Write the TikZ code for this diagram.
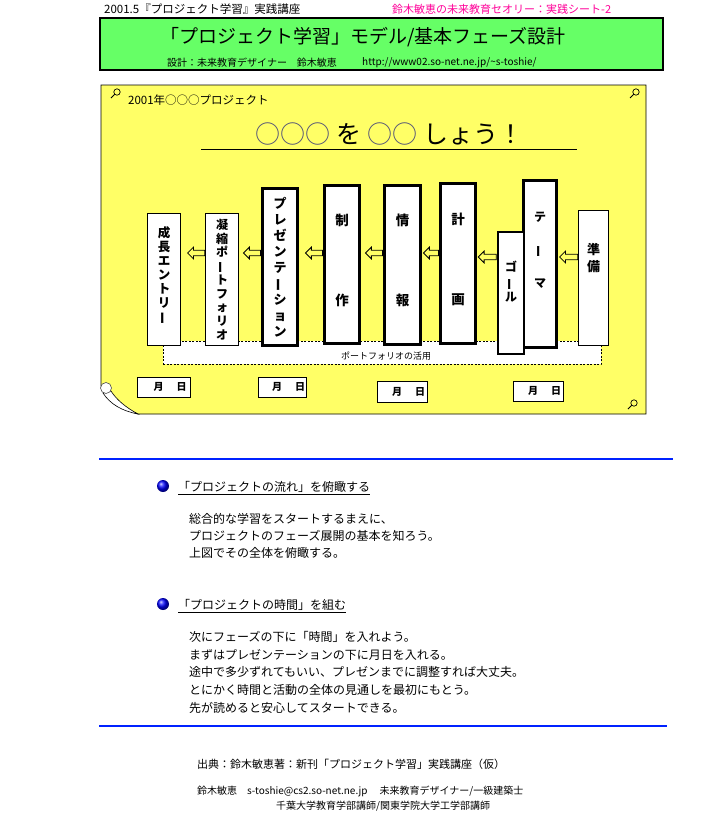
\documentclass[tikz,border=0pt]{standalone}
\usepackage{fontspec}
\setmainfont{Noto Sans CJK JP}
\usepackage{xcolor}
\usepackage{tikz}
\usetikzlibrary{calc,shapes.arrows}
\definecolor{greenbg}{HTML}{66FF66}
\definecolor{boardy}{HTML}{FFFF66}
\definecolor{pinkx}{HTML}{FF0099}
\definecolor{bluex}{HTML}{0022FF}
\definecolor{circgray}{HTML}{555577}
\newcommand{\tate}{\rotatebox[origin=c]{90}{ー}}
\tikzset{
  phase/.style={draw,fill=white,line width=0.9pt,inner sep=0pt},
  phasebold/.style={phase,line width=2.6pt},
  vtxt/.style={align=center,inner sep=0pt,font=\bfseries\fontsize{12.5}{14}\selectfont},
  flowarr/.style={single arrow,draw,fill=boardy,line width=0.8pt,inner sep=2.4pt,minimum height=17pt,
    single arrow head extend=3pt,shape border rotate=180},
  datebox/.style={draw,fill=white,line width=0.8pt,inner sep=0pt,minimum height=20pt,font=\bfseries\fontsize{10}{12}\selectfont},
  txt/.style={anchor=west,inner sep=0pt},
  lens/.pic={\draw[line width=0.7pt] (0,0) circle (3.2); \draw[line width=0.9pt] (-2.3,2.3) -- (-6,6);}
}
\begin{document}
\begin{tikzpicture}[x=1pt,y=-1pt]
\useasboundingbox (0,0) rectangle (721,828);
\fill[white] (0,0) rectangle (721,828);
% header
\node[txt,font=\fontsize{11.5}{13}\selectfont] (hdr) at (104,9) {2001.5『プロジェクト学習』実践講座};
\node[txt,font=\fontsize{11}{13}\selectfont,text=pinkx] (series) at (392,9) {鈴木敏恵の未来教育セオリー：実践シート-2};
\node[draw,line width=2pt,fill=greenbg,minimum width=563pt,minimum height=52pt,inner sep=0pt] (titlebox) at (381.5,44) {};
\node[font=\fontsize{19}{21}\selectfont] (title) at (363,37) {「プロジェクト学習」モデル/基本フェーズ設計};
\node[txt,font=\fontsize{10}{12}\selectfont] (designer) at (167,63) {設計：未来教育デザイナー　鈴木敏恵};
\node[txt,font=\fontsize{10}{12}\selectfont] (url) at (362,63) {http://www02.so-net.ne.jp/\textasciitilde s-toshie/};

% board with curled corner
\filldraw[fill=boardy,draw=black,line width=0.8pt] (101,85) -- (646,85) -- (646,414) -- (138,414)
  .. controls (124,409) and (110,398) .. (101,386) -- cycle;
\filldraw[fill=white,draw=black,line width=0.6pt] (103,393) .. controls (110,404) and (122,411) .. (138,414)
  .. controls (125,407) and (116,399) .. (111,391) -- cycle;
\filldraw[fill=white,draw=black!70,line width=0.6pt] (106,388) circle (5.5);
\pic at (117,92) {lens};
\pic at (636,92) {lens};
\pic at (634,403) {lens};

\node[txt,font=\fontsize{11.5}{13}\selectfont] (proj) at (128,100) {2001年○○○プロジェクト};
\node[font=\fontsize{25}{28}\selectfont] (aim) at (389,134) {\textcolor{circgray}{○○○}\hspace{6pt}を\hspace{6pt}\textcolor{circgray}{○○}\hspace{6pt}しょう！};
\draw[line width=0.8pt] (201,149) -- (577,149);

% portfolio band
\node[draw,fill=white,dash pattern=on 2pt off 1.5pt,line width=0.8pt,minimum width=438pt,minimum height=23pt,inner sep=0pt] (pfband) at (382,352.5) {};
\node[font=\fontsize{9}{10}\selectfont,inner sep=0pt] (pflabel) at (386,356) {ポートフォリオの活用};

% phases
\node[phase,minimum width=33pt,minimum height=132pt] (grow) at (164,279.5) {};
\node[phase,minimum width=33pt,minimum height=132pt] (cond) at (222,279.5) {};
\node[phasebold,minimum width=35.5pt,minimum height=157.5pt] (pres) at (280,267) {};
\node[phasebold,minimum width=35.5pt,minimum height=158.5pt] (make) at (342,264.5) {};
\node[phasebold,minimum width=36.5pt,minimum height=159.5pt] (info) at (402.5,265) {};
\node[phasebold,minimum width=35.5pt,minimum height=160.5pt] (plan) at (458,263.5) {};
\node[phasebold,minimum width=33.5pt,minimum height=167.5pt] (theme) at (540,264) {};
\node[phasebold,minimum width=26pt,minimum height=122pt] (goal) at (511,293) {};
\node[phase,minimum width=30pt,minimum height=135pt] (prep) at (593.5,278) {};

\node[vtxt] at ([yshift=4pt]grow.center) {成\\長\\エ\\ン\\ト\\リ\\\tate};
\node[vtxt,font=\bfseries\fontsize{12}{13.75}\selectfont] at (cond.center) {凝\\縮\\ポ\\\tate\\ト\\フ\\ォ\\リ\\オ};
\node[vtxt,font=\bfseries\fontsize{13}{16}\selectfont] at (pres.center) {プ\\レ\\ゼ\\ン\\テ\\\tate\\シ\\ョ\\ン};
\node[vtxt,font=\bfseries\fontsize{13.5}{80}\selectfont] at ([yshift=4pt]make.center) {制\\作};
\node[vtxt,font=\bfseries\fontsize{13.5}{80}\selectfont] at ([yshift=5pt]info.center) {情\\報};
\node[vtxt,font=\bfseries\fontsize{13.5}{80}\selectfont] at ([yshift=4pt]plan.center) {計\\画};
\node[vtxt,font=\bfseries\fontsize{12}{33}\selectfont] at ([yshift=14pt]theme.center) {テ\\\tate\\マ};
\node[vtxt,font=\bfseries\fontsize{12}{15}\selectfont] at ([yshift=11pt]goal.center) {ゴ\\\tate\\ル};
\node[vtxt,font=\bfseries\fontsize{13}{17}\selectfont] at ([yshift=20pt]prep.center) {準\\備};

% flow arrows
\coordinate (row) at (0,253);
\coordinate (rowr) at (0,257);
\path (cond.west |- row) -- (grow.east |- row) node[flowarr,pos=0,anchor=tail] {};
\path (pres.west |- row) -- (cond.east |- row) node[flowarr,pos=0,anchor=tail] {};
\path (make.west |- row) -- (pres.east |- row) node[flowarr,pos=0,anchor=tail] {};
\path (info.west |- row) -- (make.east |- row) node[flowarr,pos=0,anchor=tail] {};
\path (plan.west |- row) -- (info.east |- row) node[flowarr,pos=0,anchor=tail,minimum height=15pt] {};
\path (goal.west |- rowr) -- (plan.east |- rowr) node[flowarr,pos=0,anchor=tail,minimum height=18pt] {};
\path (prep.west |- rowr) -- (theme.east |- rowr) node[flowarr,pos=0,anchor=tail,minimum height=18pt] {};

% dates
\node[datebox,minimum width=53pt] (d1) at (164,387) {\hspace*{12pt}月\hspace{13pt}日};
\node[datebox,minimum width=48pt] (d2) at (282.5,387) {\hspace*{12pt}月\hspace{13pt}日};
\node[datebox,minimum width=50pt,minimum height=21pt] (d3) at (402.5,392) {\hspace*{12pt}月\hspace{13pt}日};
\node[datebox,minimum width=50pt] (d4) at (538.5,391) {\hspace*{12pt}月\hspace{13pt}日};

% lower text
\draw[bluex,line width=1.6pt] (99,459) -- (673,459);
\shade[ball color=blue] (163,486) circle (6);
\node[txt,font=\fontsize{12}{14}\selectfont] (head1) at (178,487) {「プロジェクトの流れ」を俯瞰する};
\draw[line width=0.7pt] ([yshift=-1.5pt]head1.south west) -- ([yshift=-1.5pt]head1.south east);
\node[txt,anchor=north west,align=left,font=\fontsize{12}{17}\selectfont] (body1) at (189,513)
  {総合的な学習をスタートするまえに、\\プロジェクトのフェーズ展開の基本を知ろう。\\上図でその全体を俯瞰する。};

\shade[ball color=blue] (163,604) circle (6);
\node[txt,font=\fontsize{12}{14}\selectfont] (head2) at (178,605) {「プロジェクトの時間」を組む};
\draw[line width=0.7pt] ([yshift=-1.5pt]head2.south west) -- ([yshift=-1.5pt]head2.south east);
\node[txt,anchor=north west,align=left,font=\fontsize{12}{17.75}\selectfont] (body2) at (189,631)
  {次にフェーズの下に「時間」を入れよう。\\まずはプレゼンテーションの下に月日を入れる。\\途中で多少ずれてもいい、プレゼンまでに調整すれば大丈夫。\\とにかく時間と活動の全体の見通しを最初にもとう。\\先が読めると安心してスタートできる。};
\draw[bluex,line width=1.6pt] (99,726) -- (667,726);

% footer
\node[txt,font=\fontsize{11}{13}\selectfont] (src) at (197,764) {出典：鈴木敏恵著：新刊「プロジェクト学習」実践講座（仮）};
\node[txt,font=\fontsize{10}{12}\selectfont] (auth) at (197,791) {鈴木敏恵\hspace{10pt}s-toshie@cs2.so-net.ne.jp\hspace{12pt}未来教育デザイナー/一級建築士};
\node[txt,font=\fontsize{10}{12}\selectfont] (affil) at (276,806) {千葉大学教育学部講師/関東学院大学工学部講師};
\end{tikzpicture}
\end{document}
